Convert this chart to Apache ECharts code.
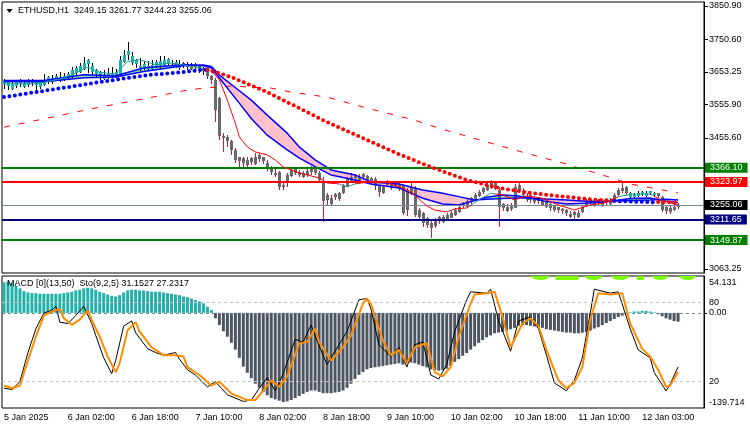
<!DOCTYPE html>
<html>
<head>
<meta charset="utf-8">
<title>ETHUSD H1</title>
<script src="https://cdn.jsdelivr.net/npm/echarts@6.0.0/dist/echarts.min.js"></script>
<style>
  html, body { margin: 0; padding: 0; background: #fff; }
  #chart { width: 750px; height: 430px; }
</style>
</head>
<body>
<div id="chart"></div>
<script>
// ---- data ----
var opens = [
  3628,3622,3604,3610,3628,3608,3612,3628,3625,3606,
  3615,3638,3622,3642,3625,3630,3648,3638,3650,3655,
  3662,3688,3672,3658,3652,3632,3636,3640,3640,3645,
  3685,3715,3700,3688,3660,3678,3660,3664,3684,3668,
  3676,3692,3668,3682,3665,3680,3676,3662,3676,3670,
  3665,3655,3642,3630,3575,3462,3458,3446,3420,3398,
  3395,3375,3396,3380,3405,3398,3380,3370,3345,3354,
  3308,3320,3342,3365,3355,3340,3345,3352,3366,3352,
  3320,3285,3258,3288,3272,3292,3312,3328,3345,3328,
  3348,3342,3322,3332,3312,3292,3328,3305,3325,3302,
  3312,3240,3290,3305,3240,3230,3215,3185,3192,3218,
  3205,3212,3218,3226,3235,3262,3250,3262,3272,3282,
  3292,3300,3305,3322,3300,3258,3238,3242,3248,3315,
  3298,3270,3285,3262,3278,3255,3265,3258,3252,3248,
  3242,3240,3220,3235,3220,3235,3252,3270,3255,3270,
  3255,3272,3258,3270,3285,3295,3308,3292,3278,3282,
  3294,3282,3296,3292,3290,3278,3250,3232,3240,3249.15
];
var closes = [
  3615,3610,3618,3622,3615,3620,3625,3618,3612,3622,
  3630,3625,3635,3632,3638,3640,3636,3660,3665,3672,
  3680,3675,3655,3645,3640,3645,3648,3650,3652,3690,
  3705,3702,3680,3675,3672,3665,3670,3675,3672,3685,
  3690,3678,3675,3672,3676,3672,3668,3670,3668,3660,
  3655,3640,3630,3540,3460,3455,3445,3420,3390,3385,
  3380,3390,3385,3400,3392,3385,3362,3355,3350,3310,
  3315,3345,3360,3350,3345,3352,3356,3365,3350,3330,
  3265,3270,3275,3280,3290,3315,3335,3340,3335,3340,
  3338,3330,3335,3310,3295,3310,3315,3320,3312,3315,
  3230,3300,3310,3225,3220,3200,3195,3200,3210,3205,
  3220,3225,3232,3240,3250,3255,3268,3275,3285,3295,
  3305,3315,3320,3305,3250,3245,3250,3255,3310,3300,
  3285,3280,3270,3275,3265,3268,3250,3245,3240,3238,
  3235,3230,3228,3225,3232,3250,3265,3262,3268,3260,
  3265,3262,3270,3285,3300,3305,3290,3280,3285,3290,
  3288,3292,3290,3286,3280,3240,3238,3245,3249.15,3255.06
];
var highs = [
  3632,3625,3625,3630,3632,3628,3632,3632,3628,3628,
  3648,3642,3645,3646,3652,3650,3652,3668,3672,3680,
  3698,3692,3680,3662,3656,3660,3665,3668,3662,3700,
  3718,3743,3712,3692,3695,3685,3685,3688,3688,3700,
  3702,3696,3688,3690,3688,3684,3682,3680,3680,3674,
  3668,3662,3645,3635,3578,3470,3465,3450,3425,3400,
  3398,3398,3400,3412,3410,3400,3390,3372,3362,3358,
  3325,3350,3368,3368,3360,3358,3362,3372,3370,3356,
  3340,3290,3285,3292,3295,3318,3340,3350,3348,3348,
  3352,3345,3340,3338,3315,3315,3330,3325,3328,3322,
  3318,3305,3328,3312,3245,3235,3218,3210,3215,3222,
  3225,3230,3238,3245,3255,3265,3272,3280,3290,3300,
  3310,3325,3330,3326,3308,3262,3258,3262,3318,3320,
  3305,3290,3288,3282,3280,3275,3272,3262,3256,3250,
  3245,3242,3238,3238,3240,3255,3272,3274,3275,3274,
  3272,3275,3275,3290,3305,3322,3312,3295,3292,3296,
  3298,3296,3298,3295,3292,3282,3252,3252,3262,3261.77
];
var lows = [
  3602,3600,3600,3606,3608,3604,3608,3610,3595,3602,
  3610,3618,3618,3625,3622,3626,3628,3634,3645,3650,
  3658,3650,3645,3635,3630,3628,3632,3636,3636,3640,
  3680,3690,3675,3665,3655,3658,3655,3660,3665,3665,
  3672,3670,3665,3665,3660,3664,3660,3658,3660,3650,
  3645,3632,3618,3503,3450,3414,3430,3405,3380,3370,
  3362,3365,3375,3375,3385,3378,3358,3345,3340,3300,
  3300,3310,3338,3345,3340,3335,3340,3345,3345,3325,
  3204,3255,3252,3270,3268,3288,3308,3325,3330,3325,
  3330,3322,3318,3300,3280,3288,3310,3300,3305,3298,
  3225,3222,3285,3220,3210,3190,3185,3156,3185,3198,
  3200,3208,3215,3222,3232,3245,3248,3258,3268,3280,
  3288,3298,3302,3300,3190,3238,3235,3238,3245,3290,
  3280,3265,3262,3258,3258,3252,3245,3238,3235,3230,
  3228,3222,3215,3212,3215,3230,3248,3255,3250,3255,
  3250,3255,3255,3265,3282,3292,3285,3275,3275,3278,
  3282,3280,3284,3280,3275,3235,3228,3228,3236,3244.23
];

// slow dashed average [bar, price]
var slowDashed = [[0,3488],[12,3518],[24,3548],[36,3575],[45,3597],[50,3605],[57,3611],[67,3605],
  [72,3593],[81,3578],[91,3545],[103,3509],[109,3485],[130,3413],[140,3381],[150,3345],[157,3318],[169,3291]];

// dotted trend line, blue below price / red above price [bar, price]
var blueDots1 = [[0,3578],[8,3593],[16,3608],[24,3623],[29,3632],[36,3644],[45,3653],[49,3659],[51,3660]];
var redDots1 = [[51,3660],[52,3657],[57,3638],[66,3593],[74,3545],[81,3503],[99,3407],[107,3369],
  [116,3330],[124,3306],[132,3291],[141,3279],[149,3270],[153,3268]];
var blueDots2 = [[153,3267],[158,3265],[164,3263]];
var redDots2 = [[164,3264],[169,3262]];

// two averages with a filled band between them
var bandIdx  = [0,10,20,28,35,45,50,52,54,59,62,66,71,74,78,82,88,92,99,105,110,114,118,121,125,129,132,136,141,146,152,157,162,166,169];
var bandFast = [3628,3628,3645,3642,3665,3676,3672,3665,3635,3560,3514,3464,3420,3396,3370,3345,3330,3318,3306,3275,3258,3255,3268,3278,3285,3282,3276,3265,3258,3260,3266,3274,3276,3266,3262];
var bandSlow = [3625,3624,3636,3638,3655,3672,3674,3670,3644,3597,3569,3524,3470,3429,3390,3360,3345,3324,3318,3300,3290,3280,3270,3272,3274,3276,3276,3273,3270,3266,3266,3268,3270,3272,3270];

// fast thin average [bar, price]
var fastLine = [[0,3618],[8,3618],[14,3632],[18,3650],[21,3668],[24,3652],[28,3648],[31,3685],[34,3690],
  [38,3675],[42,3680],[46,3672],[50,3664],[52,3655],[54,3630],[56,3569],[58,3500],[59,3459],[61,3429],
  [63,3414],[66,3405],[68,3390],[70,3369],[74,3351],[79,3336],[81,3321],[84,3318],[86,3309],[88,3318],
  [92,3325],[96,3322],[100,3305],[103,3285],[106,3252],[108,3240],[111,3234],[113,3243],[116,3246],
  [119,3270],[122,3290],[125,3285],[128,3270],[131,3282],[135,3275],[139,3255],[143,3240],[147,3255],
  [151,3262],[154,3280],[158,3288],[162,3288],[165,3268],[169,3255]];

// horizontal levels
var levels = [3366.10, 3323.97, 3255.06, 3211.65, 3149.87];

// lower window
var macdHist = [
  45,46,44,40,36,32,30,29,29,28,
  28,28,28,28,28,29,30,31,33,34,
  36,37,36,34,31,29,27,25,24,26,
  30,33,34,34,33,33,32,31,31,31,
  30,29,28,27,26,24,23,21,19,17,
  14,9,4,-8,-18,-27,-35,-44,-54,-66,
  -79,-88,-96,-104,-110,-116,-121,-125,-127,-129,
  -131,-130,-128,-125,-122,-119,-116,-114,-114,-116,
  -118,-118,-118,-117,-116,-114,-110,-104,-97,-91,
  -87,-83,-81,-80,-79,-78,-77,-76,-75,-74,
  -76,-74,-73,-74,-76,-78,-80,-83,-84,-85,
  -84,-82,-78,-72,-68,-63,-59,-54,-49,-44,
  -40,-36,-33,-30,-29,-28,-26,-24,-22,-19,
  -18,-18,-19,-20,-21,-22,-24,-25,-26,-27,
  -28,-29,-29,-30,-30,-29,-28,-26,-23,-21,
  -18,-15,-12,-9,-6,-4,-2,1,2,2,
  3,3,2,1,-2,-5,-8,-10,-12,-13
];
var stochMain = [[0,15],[2,14],[4,20],[6,42],[8,60],[10,72],[12,74],[13,77],[14,65],[16,64],[18,70],[20,77],
  [22,64],[23,55],[25,38],[27,26],[28,36],[30,62],[32,66],[33,57],[36,45],[38,42],[40,40],[43,42],[44,37],
  [46,29],[48,25],[51,16],[53,20],[56,10],[60,5],[62,6],[64,15],[66,23],[68,13],[70,26],[73,52],[75,50],
  [77,63],[79,47],[81,33],[84,48],[86,58],[89,82],[91,83],[92,75],[94,48],[97,39],[99,46],[101,31],[103,48],
  [105,50],[107,25],[109,22],[111,33],[113,58],[116,82],[117,88],[121,87],[122,90],[124,66],[127,43],[129,66],
  [132,69],[134,60],[136,40],[138,19],[141,13],[143,21],[145,38],[147,72],[148,90],[152,87],[154,88],[157,60],
  [159,44],[162,38],[163,27],[166,13],[167,18],[169,31.15]];
var stochSignal = [[0,17],[2,15],[4,17],[6,36],[8,54],[10,70],[12,73],[14,75],[15,68],[17,63],[19,67],[21,74],
  [22,67],[24,54],[26,39],[28,27],[29,34],[31,59],[33,65],[34,58],[37,46],[38,44],[40,40],[43,40],[45,39],
  [46,31],[49,25],[52,17],[54,20],[57,11],[61,6],[63,6],[65,13],[67,21],[69,16],[71,24],[74,49],[76,50],
  [78,60],[79,50],[82,36],[85,46],[87,55],[90,79],[91,83],[92,79],[95,51],[97,40],[99,44],[101,34],[103,46],
  [106,49],[108,27],[110,24],[112,31],[114,54],[117,79],[118,86],[121,87],[123,88],[125,69],[127,46],[130,64],
  [132,68],[134,62],[136,44],[139,21],[141,15],[143,19],[145,31],[147,67],[149,87],[152,86],[155,87],[157,64],
  [160,45],[162,39],[164,29],[166,16],[167,17],[169,27.23]];

var tickLabels = ['5 Jan 2025','6 Jan 02:00','6 Jan 18:00','7 Jan 10:00','8 Jan 02:00','8 Jan 18:00',
  '9 Jan 10:00','10 Jan 02:00','10 Jan 18:00','11 Jan 10:00','12 Jan 03:00'];
var priceTicks = [3850.90, 3750.60, 3653.25, 3555.90, 3455.60, 3063.25];
var macdTicks = [54.131, 0, -139.714];
var stochTicks = [80, 20];
var bigPrice = '3255.06';

// ---- styling ----
var FONT = 'Liberation Sans';
var TEAL = '#20b2aa', GREY = '#696969', CRIMSON = '#dc143c';
var tealRanges = [[0, 44], [157, 163]];
var levelColors = ['#008000', '#ff0000', '#778899', '#000080', '#008000'];
var levelBoxes  = ['#008000', '#ff0000', '#000000', '#000080', '#008000'];
var levelWidths = [2, 2, 1, 2, 2];
var BARS_PER_LABEL = 16;

var cats = [];
for (var i = 0; i < 176; i++) cats.push(String(i));

function isTeal(i) {
  return tealRanges.some(function (r) { return i >= r[0] && i <= r[1]; });
}
var candleData = closes.map(function (c, i) {
  return [i, opens[i], c, Math.min(lows[i], opens[i], c), Math.max(highs[i], opens[i], c)];
});

function dotSeries(pts, color) {
  return { type: 'line', xAxisIndex: 0, yAxisIndex: 0, data: pts, showSymbol: false, z: 6, silent: true,
    lineStyle: { color: color, width: 4, type: [0, 5.5], cap: 'round' } };
}

var series = [];
// band fill
series.push({
  type: 'custom', xAxisIndex: 0, yAxisIndex: 0, z: 1, silent: true,
  data: bandIdx.slice(0, -1).map(function (v, k) { return [v, bandSlow[k]]; }),
  encode: { x: 0, y: 1 },
  renderItem: function (params, api) {
    var k = params.dataIndex;
    var a0 = api.coord([bandIdx[k], bandFast[k]]), a1 = api.coord([bandIdx[k + 1], bandFast[k + 1]]);
    var b0 = api.coord([bandIdx[k], bandSlow[k]]), b1 = api.coord([bandIdx[k + 1], bandSlow[k + 1]]);
    var d0 = bandSlow[k] - bandFast[k], d1 = bandSlow[k + 1] - bandFast[k + 1];
    var col = function (d) { return d >= 0 ? '#ffc0cb' : '#90ee90'; };
    if (d0 * d1 < 0) {
      var t = d0 / (d0 - d1);
      var X = [a0[0] + t * (a1[0] - a0[0]), a0[1] + t * (a1[1] - a0[1])];
      return { type: 'group', children: [
        { type: 'polygon', shape: { points: [a0, X, b0] }, style: { fill: col(d0) } },
        { type: 'polygon', shape: { points: [X, a1, b1] }, style: { fill: col(d1) } }
      ] };
    }
    return { type: 'polygon', shape: { points: [a0, a1, b1, b0] }, style: { fill: col(d0 + d1) } };
  }
});
// candles: wick line + 3px body
series.push({
  type: 'custom', xAxisIndex: 0, yAxisIndex: 0, z: 2, silent: true, data: candleData,
  encode: { x: 0, y: [1, 2, 3, 4] },
  renderItem: function (params, api) {
    var idx = api.value(0);
    var pO = api.coord([idx, api.value(1)]), pC = api.coord([idx, api.value(2)]);
    var pL = api.coord([idx, api.value(3)]), pH = api.coord([idx, api.value(4)]);
    var x = Math.round(pO[0]);
    var wick = (isTeal(idx) || idx <= 50) ? '#000000' : CRIMSON;
    var body = isTeal(idx) ? TEAL : GREY;
    var top = Math.round(Math.min(pO[1], pC[1]));
    var h = Math.max(1, Math.round(Math.abs(pO[1] - pC[1])));
    return { type: 'group', children: [
      { type: 'line', shape: { x1: x + 0.5, y1: Math.round(pH[1]), x2: x + 0.5, y2: Math.round(pL[1]) },
        style: { stroke: wick, lineWidth: 1 } },
      { type: 'rect', shape: { x: x - 1, y: top, width: 3, height: h }, style: { fill: body } }
    ] };
  }
});
series.push({ type: 'line', xAxisIndex: 0, yAxisIndex: 0, z: 4, data: slowDashed, showSymbol: false, silent: true,
  lineStyle: { color: '#ff0000', width: 1, type: [6, 9] } });
series.push({ type: 'line', xAxisIndex: 0, yAxisIndex: 0, z: 4, showSymbol: false, silent: true,
  data: bandIdx.map(function (v, k) { return [v, bandFast[k]]; }), lineStyle: { color: '#0000ff', width: 1.5 } });
series.push({ type: 'line', xAxisIndex: 0, yAxisIndex: 0, z: 4, showSymbol: false, silent: true,
  data: bandIdx.map(function (v, k) { return [v, bandSlow[k]]; }), lineStyle: { color: '#0000ff', width: 1.5 } });
var fastIndex = series.length;
series.push({ type: 'line', xAxisIndex: 0, yAxisIndex: 0, z: 5, showSymbol: false, silent: true,
  data: fastLine, lineStyle: { width: 1 } });
series.push(dotSeries(blueDots1, '#0000ff'));
series.push(dotSeries(redDots1, '#ff0000'));
series.push(dotSeries(blueDots2, '#0000ff'));
series.push(dotSeries(redDots2, '#ff0000'));
// horizontal levels with price boxes
series.push({
  type: 'line', xAxisIndex: 0, yAxisIndex: 0, z: 10, data: [], silent: true,
  markLine: {
    symbol: ['none', 'none'], silent: true, animation: false,
    data: levels.map(function (v, k) {
      return {
        yAxis: v,
        lineStyle: { color: levelColors[k], width: levelWidths[k], type: 'solid' },
        label: { show: true, position: 'end', distance: 1, formatter: v.toFixed(2),
          backgroundColor: levelBoxes[k], color: '#fff', fontFamily: FONT, fontSize: 9,
          lineHeight: 9, padding: [1, 5, 0, 5] }
      };
    })
  }
});
// lower window
series.push({ type: 'bar', xAxisIndex: 1, yAxisIndex: 1, data: macdHist, barWidth: 3, z: 2, silent: true,
  itemStyle: { color: function (p) { return p.value >= 0 ? TEAL : '#4d5561'; } } });
series.push({ type: 'line', xAxisIndex: 1, yAxisIndex: 1, data: [], z: 3, silent: true,
  markLine: { symbol: ['none', 'none'], silent: true, label: { show: false },
    data: [{ yAxis: 0 }], lineStyle: { color: '#778899', width: 1, type: [3, 3] } } });
series.push({ type: 'line', xAxisIndex: 1, yAxisIndex: 2, data: [], z: 3, silent: true,
  markLine: { symbol: ['none', 'none'], silent: true, label: { show: false },
    data: stochTicks.map(function (v) { return { yAxis: v }; }), lineStyle: { color: '#c0c0c0', width: 1, type: [3, 3] } } });
series.push({ type: 'line', xAxisIndex: 1, yAxisIndex: 2, data: stochMain, z: 4, showSymbol: false, silent: true,
  lineStyle: { color: '#000', width: 1 } });
series.push({ type: 'line', xAxisIndex: 1, yAxisIndex: 2, data: stochSignal, z: 5, showSymbol: false, silent: true,
  lineStyle: { color: '#ff8c00', width: 2 } });
// large price text peeking into the top of the lower window
series.push({
  type: 'custom', xAxisIndex: 1, yAxisIndex: 2, z: 1, clip: true, silent: true, data: [[0, 100]],
  renderItem: function (params, api) {
    var p = api.coord([0, 100]);
    return { type: 'text', x: 527, y: p[1] - 9,
      style: { text: bigPrice, fill: '#7cfc00', font: 'bold 48px "Liberation Sans"', verticalAlign: 'middle' } };
  }
});

var myChart = echarts.init(document.getElementById('chart'));
myChart.setOption({
  animation: false,
  backgroundColor: '#fff',
  textStyle: { fontFamily: FONT },
  grid: [
    { left: 2, top: 2, width: 702, height: 271, show: true, borderColor: '#000', borderWidth: 1 },
    { left: 2, top: 276, width: 702, height: 132, show: true, borderColor: '#000', borderWidth: 1 }
  ],
  xAxis: [
    { gridIndex: 0, type: 'category', data: cats, boundaryGap: true,
      axisLine: { show: false }, axisTick: { show: false }, axisLabel: { show: false } },
    { gridIndex: 1, type: 'category', data: cats, boundaryGap: true,
      axisLine: { show: false }, axisTick: { show: false },
      axisLabel: {
        interval: function (idx) { return idx % BARS_PER_LABEL === 0 && idx / BARS_PER_LABEL < tickLabels.length; },
        formatter: function (v, idx) { return tickLabels[idx / BARS_PER_LABEL] || ''; },
        align: 'left', margin: 5, color: '#000', fontFamily: FONT, fontSize: 9
      } }
  ],
  yAxis: [
    { gridIndex: 0, type: 'value', position: 'right', min: 3051.2, max: 3862.9, splitLine: { show: false },
      axisLine: { show: true, lineStyle: { color: '#000' } },
      axisTick: { show: true, length: 4, customValues: priceTicks, lineStyle: { color: '#000' } },
      axisLabel: { customValues: priceTicks, formatter: function (v) { return v.toFixed(2); },
        margin: 5, color: '#000', fontFamily: FONT, fontSize: 9 } },
    { gridIndex: 1, type: 'value', position: 'right', min: -139.714, max: 54.131, splitLine: { show: false },
      axisLine: { show: true, lineStyle: { color: '#000' } },
      axisTick: { show: true, length: 3, customValues: [0], lineStyle: { color: '#000' } },
      axisLabel: { customValues: macdTicks, margin: 5, color: '#000', fontFamily: FONT, fontSize: 9,
        formatter: function (v) {
          if (v > 1) return '{t|54.131}';
          if (v < -1) return '{b|-139.714}';
          return '0.00';
        },
        rich: { t: { padding: [14, 0, 0, 0], fontSize: 9, fontFamily: FONT, color: '#000' },
                b: { padding: [0, 0, 10, 0], fontSize: 9, fontFamily: FONT, color: '#000' } } } },
    { gridIndex: 1, type: 'value', position: 'right', min: 0, max: 100, splitLine: { show: false },
      axisLine: { show: false }, axisTick: { show: false },
      axisLabel: { customValues: stochTicks, margin: 5, color: '#000', fontFamily: FONT, fontSize: 9 } }
  ],
  visualMap: {
    type: 'piecewise', show: false, seriesIndex: fastIndex, dimension: 0,
    pieces: [
      { lte: 52, color: '#1e9e8c' }, { gt: 52, lt: 84, color: '#ff0000' },
      { gte: 84, lte: 88, color: '#1e9e8c' }, { gt: 88, lt: 117, color: '#ff0000' },
      { gte: 117, lte: 123, color: '#1e9e8c' }, { gt: 123, lt: 154, color: '#ff0000' },
      { gte: 154, lte: 163, color: '#1e9e8c' }, { gt: 163, color: '#ff0000' }
    ]
  },
  graphic: [
    { type: 'polygon', shape: { points: [[6.5, 9], [12.5, 9], [9.5, 13]] }, style: { fill: '#000' }, z: 20 },
    { type: 'text', x: 18, y: 11, z: 20, style: { text: 'ETHUSD,H1  3249.15 3261.77 3244.23 3255.06',
      fill: '#000', font: '9px "Liberation Sans"', verticalAlign: 'middle' } },
    { type: 'text', x: 7, y: 284, z: 20, style: { text: 'MACD [0](13,50)  Sto(9,2,5) 31.1527 27.2317',
      fill: '#000', font: '9px "Liberation Sans"', verticalAlign: 'middle' } }
  ],
  series: series
});
</script>
</body>
</html>
